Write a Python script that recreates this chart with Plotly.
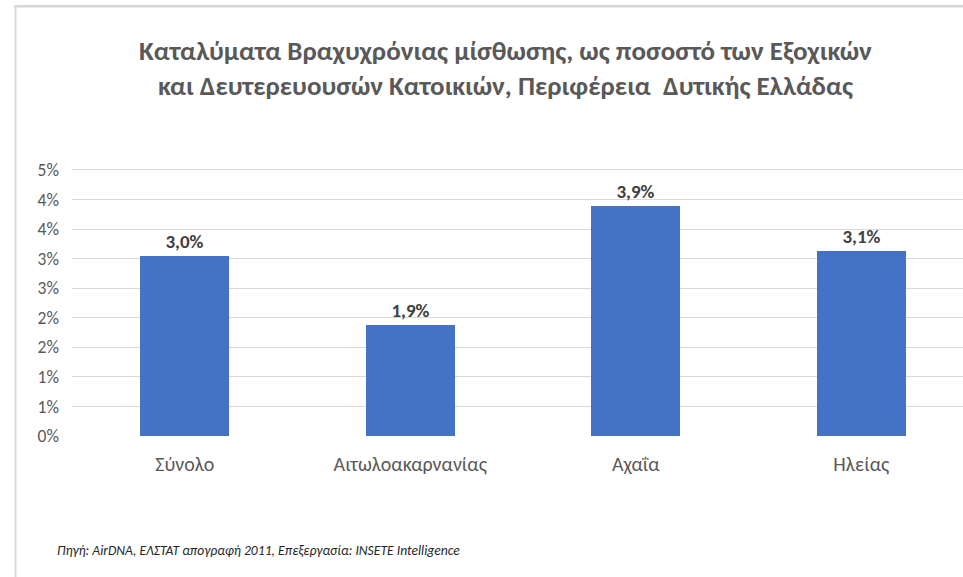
import plotly.graph_objects as go

categories = ["Σύνολο", "Αιτωλοακαρνανίας", "Αχαΐα", "Ηλείας"]
values = [3.05, 1.88, 3.89, 3.13]          # percent
value_labels = ["3,0%", "1,9%", "3,9%", "3,1%"]
tick_vals = [0, 0.5, 1, 1.5, 2, 2.5, 3, 3.5, 4, 4.5]
tick_text = ["0%", "1%", "1%", "2%", "2%", "3%", "3%", "4%", "4%", "5%"]

title_text = ("<b>Καταλύματα Βραχυχρόνιας μίσθωσης, ως ποσοστό των Εξοχικών<br>"
              "και Δευτερευουσών Κατοικιών, Περιφέρεια  Δυτικής Ελλάδας</b>")
source_text = "<i>Πηγή: AirDNA, ΕΛΣΤΑΤ απογραφή 2011, Επεξεργασία: INSETE Intelligence</i>"

FONT = "Carlito, Open Sans, Noto Sans, sans-serif"

fig = go.Figure(go.Bar(
    x=categories, y=values, width=0.395,
    marker=dict(color="#4472C4", line=dict(width=0)),
    text=value_labels, textposition="outside", cliponaxis=False,
    textfont=dict(family=FONT, size=19, color="#404040", weight="bold"),
))

W, H = 963, 577
L, R, T, B = 72, 0, 164, 577 - 436
pw = W - L - R
ph = H - T - B

def px_x(px):
    return (px - L) / pw

def px_y(py):
    return (H - B - py) / ph

fig.update_layout(
    width=W, height=H,
    margin=dict(l=L, r=R, t=T, b=B, pad=0),
    paper_bgcolor="white", plot_bgcolor="white",
    showlegend=False,
    bargap=0,
    font=dict(family=FONT, color="#595959"),
    xaxis=dict(range=[-0.5, -0.5 + pw / 225.5], showgrid=False, showline=False,
               ticks="", tickfont=dict(size=20, color="#595959"),
               ticklabelstandoff=14, fixedrange=True),
    yaxis=dict(range=[0, 4.6], tickvals=tick_vals, ticktext=tick_text,
               showgrid=True, gridcolor="#d9d9d9", gridwidth=1,
               zeroline=False, showline=False, ticks="",
               tickfont=dict(size=17.5, color="#595959"),
               ticklabelstandoff=12, fixedrange=True),
    annotations=[
        dict(text=title_text, xref="paper", yref="paper",
             x=px_x(505), y=px_y(68), xanchor="center", yanchor="middle",
             showarrow=False, align="center",
             font=dict(family=FONT, size=27, color="#595959")),
        dict(text=source_text, xref="paper", yref="paper",
             x=px_x(55), y=px_y(550), xanchor="left", yanchor="middle",
             showarrow=False, font=dict(family=FONT, size=13.6, color="#262626")),
    ],
    shapes=[
        dict(type="rect", xref="paper", yref="paper", layer="above",
             x0=px_x(14.5), x1=px_x(975), y0=px_y(5), y1=px_y(7.5),
             fillcolor="#d6d6d6", line=dict(width=0)),
        dict(type="rect", xref="paper", yref="paper", layer="above",
             x0=px_x(14.5), x1=px_x(16.5), y0=px_y(5), y1=px_y(590),
             fillcolor="#d9d9d9", line=dict(width=0)),
    ],
)

fig.write_html("out.html",
               config=dict(displayModeBar=False),
               post_script="document.body.style.margin='0';document.body.style.overflow='hidden';")
